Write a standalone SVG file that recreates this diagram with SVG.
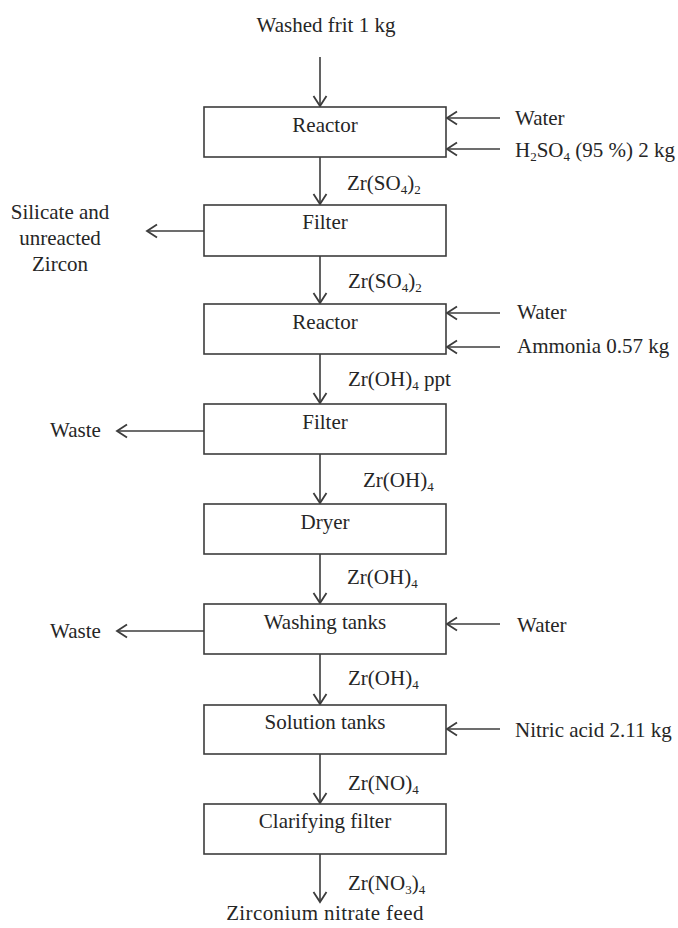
<svg xmlns="http://www.w3.org/2000/svg" width="678" height="928" viewBox="0 0 678 928">
<style>
text{font-family:"Liberation Serif","Times New Roman",serif;font-size:21px;fill:#262626}
.c{text-anchor:middle}
.sub{font-size:13px}
.box{fill:#fff;stroke:#3c3c3c;stroke-width:1.6}
.ln{stroke:#3c3c3c;stroke-width:1.6;fill:none;marker-end:url(#ah)}
</style>
<defs>
<marker id="ah" markerUnits="userSpaceOnUse" markerWidth="20" markerHeight="20" refX="0" refY="0" viewBox="-12 -10 14 20" orient="auto" overflow="visible">
<path d="M-10,-6.5 L0,0 L-10,6.5" fill="none" stroke="#3c3c3c" stroke-width="1.8"/>
</marker>
</defs>
<rect width="678" height="928" fill="#fff"/>
<g id="connectors">
<line class="ln" x1="320" y1="57" x2="320" y2="106"/>
<line class="ln" x1="500" y1="118" x2="447" y2="118"/>
<line class="ln" x1="500" y1="149" x2="447" y2="149"/>
<line class="ln" x1="320" y1="157" x2="320" y2="204"/>
<line class="ln" x1="204" y1="231" x2="147" y2="231"/>
<line class="ln" x1="320" y1="256" x2="320" y2="303"/>
<line class="ln" x1="500" y1="313" x2="447" y2="313"/>
<line class="ln" x1="500" y1="347" x2="447" y2="347"/>
<line class="ln" x1="320" y1="354" x2="320" y2="403"/>
<line class="ln" x1="204" y1="431" x2="117" y2="431"/>
<line class="ln" x1="320" y1="454" x2="320" y2="503"/>
<line class="ln" x1="320" y1="554" x2="320" y2="603"/>
<line class="ln" x1="500" y1="624" x2="447" y2="624"/>
<line class="ln" x1="204" y1="631" x2="117" y2="631"/>
<line class="ln" x1="320" y1="654" x2="320" y2="704"/>
<line class="ln" x1="500" y1="729" x2="447" y2="729"/>
<line class="ln" x1="320" y1="754" x2="320" y2="803"/>
<line class="ln" x1="320" y1="854" x2="320" y2="902"/>
</g>
<g id="n-reactor1"><rect class="box" x="204" y="107" width="242" height="50"/><text class="c" x="325" y="132">Reactor</text></g>
<g id="n-filter1"><rect class="box" x="204" y="205" width="242" height="51"/><text class="c" x="325" y="229">Filter</text></g>
<g id="n-reactor2"><rect class="box" x="204" y="304" width="242" height="50"/><text class="c" x="325" y="329">Reactor</text></g>
<g id="n-filter2"><rect class="box" x="204" y="404" width="242" height="50"/><text class="c" x="325" y="429">Filter</text></g>
<g id="n-dryer"><rect class="box" x="204" y="504" width="242" height="50"/><text class="c" x="325" y="529">Dryer</text></g>
<g id="n-washing"><rect class="box" x="204" y="604" width="242" height="50"/><text class="c" x="325" y="629">Washing tanks</text></g>
<g id="n-solution"><rect class="box" x="204" y="705" width="242" height="49"/><text class="c" x="325" y="729">Solution tanks</text></g>
<g id="n-clarifying"><rect class="box" x="204" y="804" width="242" height="50"/><text class="c" x="325" y="828">Clarifying filter</text></g>
<g id="labels">
<text class="c" x="326" y="32">Washed frit 1 kg</text>
<text x="515" y="125">Water</text>
<text x="515" y="157">H<tspan class="sub" dy="4">2</tspan><tspan dy="-4">SO</tspan><tspan class="sub" dy="4">4</tspan><tspan dy="-4"> (95 %) 2 kg</tspan></text>
<text x="347" y="190">Zr(SO<tspan class="sub" dy="4">4</tspan><tspan dy="-4">)</tspan><tspan class="sub" dy="4">2</tspan></text>
<text class="c" x="60" y="219">Silicate and</text>
<text class="c" x="60" y="245">unreacted</text>
<text class="c" x="60" y="271">Zircon</text>
<text x="348" y="288">Zr(SO<tspan class="sub" dy="4">4</tspan><tspan dy="-4">)</tspan><tspan class="sub" dy="4">2</tspan></text>
<text x="517" y="319">Water</text>
<text x="517" y="353">Ammonia 0.57 kg</text>
<text x="348" y="386">Zr(OH)<tspan class="sub" dy="4">4</tspan><tspan dy="-4"> ppt</tspan></text>
<text x="50" y="437">Waste</text>
<text x="363" y="487">Zr(OH)<tspan class="sub" dy="4">4</tspan></text>
<text x="347" y="584">Zr(OH)<tspan class="sub" dy="4">4</tspan></text>
<text x="517" y="632">Water</text>
<text x="50" y="638">Waste</text>
<text x="348" y="685">Zr(OH)<tspan class="sub" dy="4">4</tspan></text>
<text x="515" y="737">Nitric acid 2.11 kg</text>
<text x="348" y="790">Zr(NO)<tspan class="sub" dy="4">4</tspan></text>
<text x="348" y="890">Zr(NO<tspan class="sub" dy="4">3</tspan><tspan dy="-4">)</tspan><tspan class="sub" dy="4">4</tspan></text>
<text class="c" x="325" y="920" letter-spacing="0.4">Zirconium nitrate feed</text>
</g>
</svg>
